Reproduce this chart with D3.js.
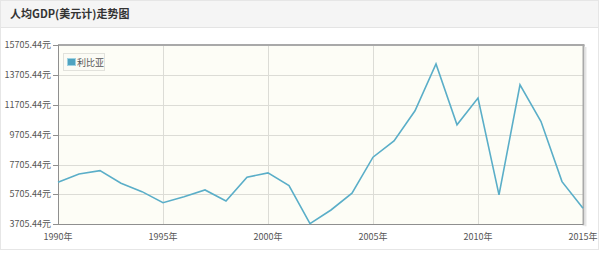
<!DOCTYPE html>
<html>
<head>
<meta charset="utf-8">
<script src="https://cdn.jsdelivr.net/npm/d3@7"></script>
<style>
  body { margin: 0; background: #fff; }
  svg text { font-family: "Noto Sans CJK SC", "Noto Sans", sans-serif; }
</style>
</head>
<body>
<script>
var width = 600,
    height = 254;

var title = "人均GDP(美元计)走势图";
var seriesName = "利比亚";
var years = [1990, 1991, 1992, 1993, 1994, 1995, 1996, 1997, 1998, 1999,
             2000, 2001, 2002, 2003, 2004, 2005, 2006, 2007, 2008, 2009,
             2010, 2011, 2012, 2013, 2014, 2015];
var gdp = [6521, 7078, 7299, 6454, 5891, 5153, 5556, 6005, 5268, 6857,
           7145, 6293, 3745, 4664, 5784, 8197, 9290, 11302, 14433, 10363,
           12153, 5670, 13045, 10585, 6561, 4778];
var yTicks = [3705.44, 5705.44, 7705.44, 9705.44, 11705.44, 13705.44, 15705.44];
var xTicks = [1990, 1995, 2000, 2005, 2010, 2015];

var margin = { top: 45, right: 17, bottom: 30, left: 58 };

var x = d3.scaleLinear()
    .domain([1990, 2015])
    .range([margin.left, width - margin.right]);

var y = d3.scaleLinear()
    .domain([3705.44, 15705.44])
    .range([224.3, margin.top]);

var svg = d3.select("body").append("svg")
    .attr("width", width)
    .attr("height", height);

// card + header
svg.append("rect")
    .attr("x", 0.5).attr("y", 0.5)
    .attr("width", 598).attr("height", 249)
    .attr("fill", "#fff")
    .attr("stroke", "#e6e6e6");

svg.append("rect")
    .attr("x", 1).attr("y", 1)
    .attr("width", 597).attr("height", 26)
    .attr("fill", "#f5f5f5");

svg.append("line")
    .attr("x1", 1).attr("x2", 598)
    .attr("y1", 27.5).attr("y2", 27.5)
    .attr("stroke", "#e4e4e4");

svg.append("text")
    .attr("x", 10).attr("y", 18)
    .attr("font-size", "11px")
    .attr("font-weight", "bold")
    .attr("fill", "#333")
    .text(title);

// plot area
var x0 = x(1990), x1 = x(2015), yTop = y(15705.44), yBot = y(3705.44);

svg.append("rect")
    .attr("x", x0).attr("y", yTop)
    .attr("width", x1 - x0).attr("height", yBot - yTop)
    .attr("fill", "#fdfdf6");

// grid
svg.append("g")
    .selectAll("line")
    .data(yTicks)
    .enter().append("line")
        .attr("x1", x0).attr("x2", x1)
        .attr("y1", function(d) { return Math.round(y(d)) + 0.5; })
        .attr("y2", function(d) { return Math.round(y(d)) + 0.5; })
        .attr("stroke", "#dcdcd6");

svg.append("g")
    .selectAll("line")
    .data(xTicks)
    .enter().append("line")
        .attr("x1", function(d) { return Math.round(x(d)) + 0.5; })
        .attr("x2", function(d) { return Math.round(x(d)) + 0.5; })
        .attr("y1", yTop).attr("y2", yBot)
        .attr("stroke", "#dcdcd6");

// frame: thicker top/right, thin left/bottom
svg.append("line")
    .attr("x1", x0).attr("x2", x1 + 1.5)
    .attr("y1", yTop).attr("y2", yTop)
    .attr("stroke", "#a9a9a9").attr("stroke-width", 2);
svg.append("line")
    .attr("x1", x1 + 0.5).attr("x2", x1 + 0.5)
    .attr("y1", yTop).attr("y2", yBot + 1)
    .attr("stroke", "#a9a9a9").attr("stroke-width", 2);
svg.append("line")
    .attr("x1", x1 + 2.5).attr("x2", x1 + 2.5)
    .attr("y1", yTop + 2).attr("y2", yBot + 2)
    .attr("stroke", "#e4e4e4").attr("stroke-width", 2);
svg.append("line")
    .attr("x1", x0 + 0.5).attr("x2", x0 + 0.5)
    .attr("y1", yTop).attr("y2", yBot)
    .attr("stroke", "#8f8f8f");
svg.append("line")
    .attr("x1", x0).attr("x2", x1)
    .attr("y1", Math.round(yBot) + 0.5).attr("y2", Math.round(yBot) + 0.5)
    .attr("stroke", "#8f8f8f");

// y axis labels + tick marks
var yAxis = svg.append("g");
yAxis.selectAll("line")
    .data(yTicks)
    .enter().append("line")
        .attr("x1", x0 - 5).attr("x2", x0)
        .attr("y1", function(d) { return Math.round(y(d)) + 0.5; })
        .attr("y2", function(d) { return Math.round(y(d)) + 0.5; })
        .attr("stroke", "#8f8f8f");
yAxis.selectAll("text")
    .data(yTicks)
    .enter().append("text")
        .attr("x", x0 - 7)
        .attr("y", function(d) { return y(d) + 3; })
        .attr("text-anchor", "end")
        .attr("font-size", "9px")
        .attr("fill", "#555")
        .text(function(d) { return d3.format(".2f")(d) + "元"; });

// x axis labels
svg.append("g")
    .selectAll("text")
    .data(xTicks)
    .enter().append("text")
        .attr("x", function(d) { return x(d); })
        .attr("y", 240)
        .attr("text-anchor", "middle")
        .attr("font-size", "9px")
        .attr("fill", "#555")
        .text(function(d) { return d + "年"; });

// series line
var line = d3.line()
    .x(function(d, i) { return x(years[i]); })
    .y(function(d) { return y(d); });

svg.append("path")
    .datum(gdp)
    .attr("d", line)
    .attr("fill", "none")
    .attr("stroke", "#5aaec8")
    .attr("stroke-width", 1.6)
    .attr("stroke-linejoin", "miter");

// legend
var legend = svg.append("g")
    .attr("transform", "translate(" + (x0 + 5) + "," + (yTop + 8) + ")");
legend.append("rect")
    .attr("x", 0.5).attr("y", 0.5)
    .attr("width", 41).attr("height", 17)
    .attr("fill", "#fbfbf5")
    .attr("stroke", "#e2e2dc");
legend.append("rect")
    .attr("x", 4.5).attr("y", 5.5)
    .attr("width", 8).attr("height", 7)
    .attr("fill", "#4fa3c0")
    .attr("stroke", "#9fd2e2");
legend.append("text")
    .attr("x", 14).attr("y", 12.5)
    .attr("font-size", "9px")
    .attr("fill", "#555")
    .text(seriesName);
</script>
</body>
</html>
